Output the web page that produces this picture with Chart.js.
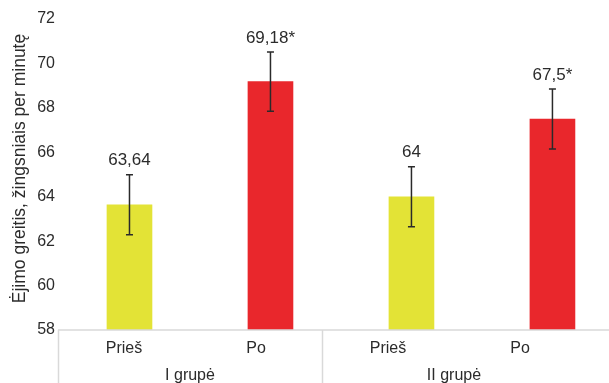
<!DOCTYPE html>
<html>
<head>
<meta charset="utf-8">
<script src="https://cdn.jsdelivr.net/npm/chart.js@4/dist/chart.umd.min.js"></script>
<style>
  html, body { margin: 0; padding: 0; background: #fff; overflow: hidden; }
  #wrap { width: 609px; height: 383px; position: relative; }
</style>
</head>
<body>
<div id="wrap"><canvas id="c" width="609" height="383"></canvas></div>
<script>
// Walking speed before/after, two groups
const categories = ['Prieš', 'Po', 'Prieš', 'Po'];
const groups = ['I grupė', 'II grupė'];
const means = [63.64, 69.18, 64, 67.5];
const errors = [1.35, 1.33, 1.35, 1.35];
const marks = ['', '*', '', '*'];
const barColors = ['#e3e336', '#e9272c', '#e3e336', '#e9272c'];
const yTitle = 'Ėjimo greitis, žingsniais per minutę';

const FONT = '"Liberation Sans", Arial, Helvetica, sans-serif';
const TEXT = '#2b2b2b';
const LINE = '#d9d9d9';

function fmt(v) { return String(v).replace('.', ','); }

const decor = {
  id: 'decor',
  afterDatasetsDraw(chart) {
    const ctx = chart.ctx;
    const y = chart.scales.y;
    const meta = chart.getDatasetMeta(0);
    ctx.save();
    meta.data.forEach((bar, i) => {
      const x = bar.x;
      const top = y.getPixelForValue(means[i] + errors[i]);
      const bot = y.getPixelForValue(means[i] - errors[i]);
      ctx.strokeStyle = '#2a2a2a';
      ctx.lineWidth = 1.5;
      ctx.beginPath();
      ctx.moveTo(x, top); ctx.lineTo(x, bot);
      ctx.moveTo(x - 3.5, top); ctx.lineTo(x + 3.5, top);
      ctx.moveTo(x - 3.5, bot); ctx.lineTo(x + 3.5, bot);
      ctx.stroke();
      ctx.fillStyle = TEXT;
      ctx.font = '17px ' + FONT;
      ctx.textAlign = 'center';
      ctx.textBaseline = 'middle';
      ctx.fillText(fmt(means[i]) + marks[i], x, top - 14);
    });
    ctx.restore();
  },
  afterDraw(chart) {
    const ctx = chart.ctx;
    const xs = chart.scales.x;
    const area = chart.chartArea;
    const step = (xs.right - xs.left) / categories.length;
    ctx.save();
    // baseline and group dividers
    ctx.strokeStyle = LINE;
    ctx.lineWidth = 1.5;
    ctx.beginPath();
    ctx.moveTo(area.left, area.bottom);
    ctx.lineTo(chart.width, area.bottom);
    for (let g = 0; g < groups.length; g++) {
      const px = Math.round(xs.left + g * 2 * step) + 0.5;
      ctx.moveTo(px, area.bottom);
      ctx.lineTo(px, chart.height);
    }
    ctx.stroke();
    ctx.fillStyle = TEXT;
    ctx.font = '16px ' + FONT;
    ctx.textAlign = 'center';
    ctx.textBaseline = 'middle';
    groups.forEach((g, i) => {
      ctx.fillText(g, xs.left + (2 * i + 1) * step, area.bottom + 46);
    });
    // vertical axis title
    ctx.translate(25, (area.top + area.bottom) / 2 - 6);
    ctx.rotate(-Math.PI / 2);
    ctx.font = '17.5px ' + FONT;
    ctx.textBaseline = 'alphabetic';
    ctx.fillText(yTitle, 0, 0);
    ctx.restore();
  }
};

new Chart(document.getElementById('c'), {
  type: 'bar',
  data: {
    labels: categories,
    datasets: [{
      data: means.map((v, i) => ({ x: i, y: v })),
      backgroundColor: barColors,
      borderWidth: 0,
      barThickness: 45,
      xAxisID: 'xb'
    }]
  },
  options: {
    responsive: false,
    animation: false,
    events: [],
    layout: { padding: { top: 19, right: 23, left: 0, bottom: 0 } },
    plugins: { legend: { display: false }, tooltip: { enabled: false } },
    scales: {
      x: {
        type: 'category',
        position: 'bottom',
        grid: { display: false, drawTicks: false },
        border: { display: false },
        ticks: { color: TEXT, font: { family: FONT, size: 16 }, padding: 9, maxRotation: 0 },
        afterFit(s) { s.height = 53; }
      },
      xb: {
        type: 'linear',
        display: false,
        offset: false,
        min: -0.507,
        max: 3.238
      },
      y: {
        min: 58, max: 72,
        grid: { display: false, drawTicks: false },
        border: { display: false },
        ticks: { stepSize: 2, color: TEXT, font: { family: FONT, size: 16 }, padding: 3 },
        afterFit(s) { s.width = 58; }
      }
    }
  },
  plugins: [decor]
});
</script>
</body>
</html>
